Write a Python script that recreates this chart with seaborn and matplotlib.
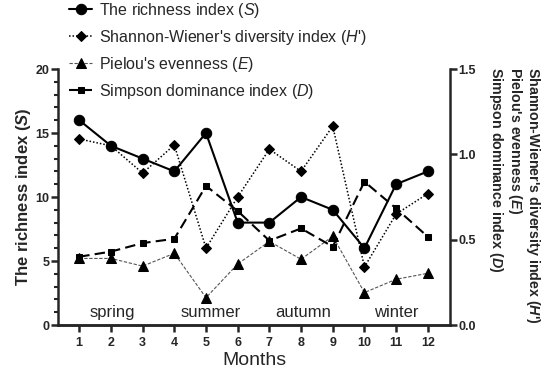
import matplotlib
matplotlib.use("Agg")
import matplotlib.pyplot as plt
from matplotlib.ticker import MultipleLocator
import seaborn as sns
import pandas as pd

# ------------------------------
# Data
# ------------------------------
months = [1, 2, 3, 4, 5, 6, 7, 8, 9, 10, 11, 12]
richness = [16, 14, 13, 12, 15, 8, 8, 10, 9, 6, 11, 12]
shannon = [1.09, 1.05, 0.89, 1.055, 0.45, 0.75, 1.03, 0.90, 1.165, 0.34, 0.65, 0.77]
pielou = [0.39, 0.39, 0.345, 0.42, 0.16, 0.357, 0.49, 0.385, 0.52, 0.19, 0.268, 0.303]
simpson = [0.40, 0.43, 0.48, 0.505, 0.815, 0.668, 0.494, 0.566, 0.459, 0.84, 0.683, 0.517]
seasons = ["spring", "summer", "autumn", "winter"]
season_x = [2.03, 5.16, 8.07, 11.0]

df = pd.DataFrame({"month": months, "S": richness, "H": shannon, "E": pielou, "D": simpson})

sns.set_style("ticks")
plt.rcParams['font.family'] = ['Liberation Sans', 'DejaVu Sans']
plt.rcParams['mathtext.fontset'] = 'custom'
plt.rcParams['mathtext.it'] = 'Liberation Sans:italic'
plt.rcParams['mathtext.bf'] = 'Liberation Sans:bold'
plt.rcParams['mathtext.bfit'] = 'Liberation Sans:italic:bold'
plt.rcParams['mathtext.rm'] = 'Liberation Sans'

fig = plt.figure(figsize=(5.5, 3.77), dpi=100)
ax = fig.add_axes([58 / 550, 1 - 325 / 377, (450 - 58) / 550, (325 - 69) / 377])
ax2 = ax.twinx()

# --- series ---
sns.lineplot(data=df, x="month", y="S", ax=ax, color="black", lw=1.5,
             marker="o", markersize=7.5, markeredgecolor="black",
             label=r"The richness index ($\mathit{S}$)", legend=False)
sns.lineplot(data=df, x="month", y="H", ax=ax2, color="black", lw=1.1, ls=(0, (1, 1.3)),
             marker="D", markersize=5.5, markeredgecolor="black",
             label=r"Shannon-Wiener's diversity index ($\mathit{H}$')", legend=False)
sns.lineplot(data=df, x="month", y="E", ax=ax2, color="#555555", lw=0.8, ls=(0, (3, 1.5)),
             marker="^", markersize=7.5, markerfacecolor="black", markeredgecolor="black",
             label=r"Pielou's evenness ($\mathit{E}$)", legend=False)
sns.lineplot(data=df, x="month", y="D", ax=ax2, color="black", lw=1.5, ls=(0, (5, 2.5)),
             marker="s", markersize=5, markeredgecolor="black",
             label=r"Simpson dominance index ($\mathit{D}$)", legend=False)

for name, xs in zip(seasons, season_x):
    ax.text(xs, 1.0, name, ha="center", va="center", fontsize=12)

# --- axes styling ---
ax.set_xlim(0.33, 12.7)
ax.set_ylim(0, 20)
ax2.set_ylim(0, 1.5)
ax.set_xticks(months)
ax.yaxis.set_major_locator(MultipleLocator(5))
ax.yaxis.set_minor_locator(MultipleLocator(1))
ax2.yaxis.set_major_locator(MultipleLocator(0.5))
ax2.yaxis.set_major_formatter(matplotlib.ticker.FormatStrFormatter("%.1f"))

for a in (ax, ax2):
    for s in a.spines.values():
        s.set_linewidth(1.8)
    a.spines["top"].set_visible(False)
    a.tick_params(width=1.8, length=5, labelsize=9, pad=1)
    a.tick_params(which="minor", width=1.5, length=3)
    for lab in a.get_xticklabels() + a.get_yticklabels():
        lab.set_fontweight("bold")
ax.spines["right"].set_visible(False)
ax2.spines["left"].set_visible(False)
ax.tick_params(axis="x", pad=4)

ax.set_xlabel("Months", fontsize=14, labelpad=2)
ax.set_ylabel(r"The richness index ($\mathbfit{S}$)", fontsize=12, fontweight="bold", labelpad=2)
ax2.set_ylabel("")

fig.text(542 / 550, 1 - 67 / 377,
         "Shannon-Wiener's diversity index ($\\mathbfit{H}$')\nPielou's evenness ($\\mathbfit{E}$)\nSimpson dominance index ($\\mathbfit{D}$)",
         rotation=270, ha="right", va="top", multialignment="left",
         fontsize=10.3, fontweight="bold", linespacing=1.02)

handles = ax.get_lines()[:1] + ax2.get_lines()[:3]
labels = [h.get_label() for h in handles]
fig.legend(handles, labels, loc="upper left", bbox_to_anchor=(69 / 550, 1 - 1 / 377),
           frameon=False, fontsize=11.5, handlelength=1.45, handletextpad=0.45,
           labelspacing=0.5, borderaxespad=0, borderpad=0)

fig.savefig("out.png", dpi=100)
